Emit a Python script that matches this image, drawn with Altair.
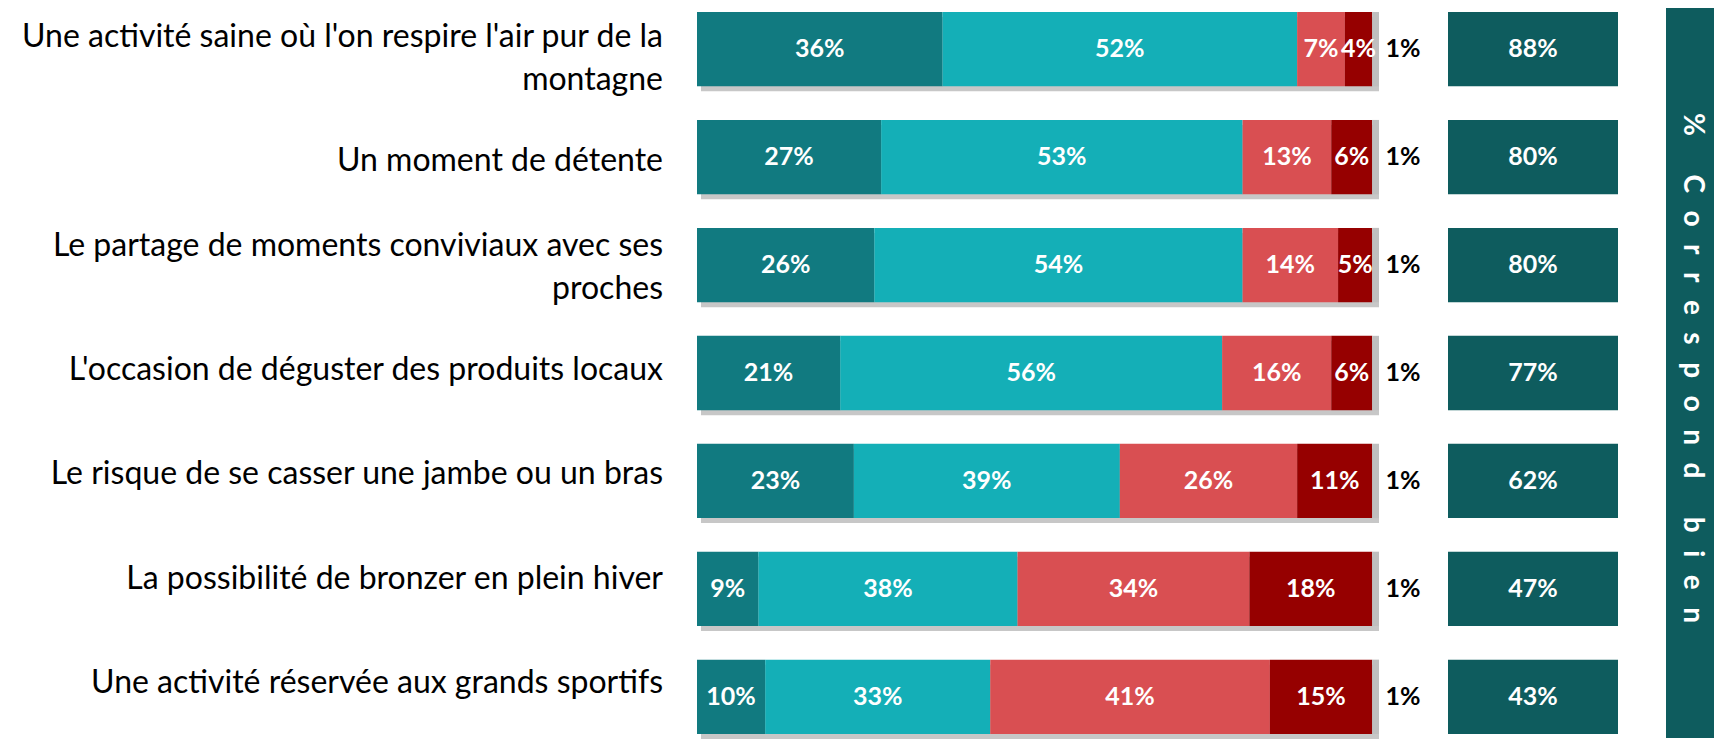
import altair as alt
import pandas as pd

# ---------------- data ----------------
categories = [
    "Une activité saine où l'on respire l'air pur de la|montagne",
    "Un moment de détente",
    "Le partage de moments conviviaux avec ses|proches",
    "L'occasion de déguster des produits locaux",
    "Le risque de se casser une jambe ou un bras",
    "La possibilité de bronzer en plein hiver",
    "Une activité réservée aux grands sportifs",
]
tout_a_fait = [36, 27, 26, 21, 23, 9, 10]
plutot = [52, 53, 54, 56, 39, 38, 33]
plutot_pas = [7, 13, 14, 16, 26, 34, 41]
pas_du_tout = [4, 6, 5, 6, 11, 18, 15]
nsp = [1, 1, 1, 1, 1, 1, 1]
correspond_bien = [88, 80, 80, 77, 62, 47, 43]

series_names = ["Tout à fait", "Plutôt", "Plutôt pas", "Pas du tout", "NSP"]
series_colors = ["#117A80", "#14AFB7", "#D94F52", "#960000", "#BFBFBF"]
panel_title = "% Correspond bien"

# ---------------- long tables ----------------
series_values = [tout_a_fait, plutot, plutot_pas, pas_du_tout, nsp]
rows = []
for i, cat in enumerate(categories):
    start = 0
    for k, name in enumerate(series_names):
        v = series_values[k][i]
        rows.append({
            "cat": cat, "serie": name, "k": k, "value": v,
            "start": start, "end": start + v, "mid": start + v / 2,
            "label": f"{v}%",
        })
        start += v
seg = pd.DataFrame(rows)
totals = seg.groupby("cat", sort=False)["end"].max().reset_index()
totals["zero"] = 0
nsp_df = seg[seg["serie"] == "NSP"]

lab_df = pd.DataFrame({
    "cat": categories,
    "line1": [c.split("|")[0] for c in categories],
    "line2": [c.split("|")[1] if "|" in c else "" for c in categories],
    "nlines": [len(c.split("|")) for c in categories],
})

box_df = pd.DataFrame({
    "cat": categories,
    "grp": ["Correspond bien"] * len(categories),
    "val": correspond_bien,
    "label": [f"{v}%" for v in correspond_bien],
})

FONT = "Lato"
H = 730
yscale = alt.Scale(domain=categories, paddingInner=0.311, paddingOuter=0.0371)
Y = alt.Y("cat:N", scale=yscale, axis=None, sort=categories)

# ---------------- left labels ----------------
def lab_mark(dy):
    return dict(align="right", baseline="middle", font=FONT, fontSize=32,
                color="#000000", dy=dy)

lab_base = alt.Chart(lab_df).encode(x=alt.value(655), y=Y)
lab_single = lab_base.transform_filter("datum.nlines == 1").mark_text(**lab_mark(-3)).encode(text="line1:N")
lab_top = lab_base.transform_filter("datum.nlines == 2").mark_text(**lab_mark(-23)).encode(text="line1:N")
lab_bot = lab_base.transform_filter("datum.nlines == 2").mark_text(**lab_mark(20)).encode(text="line2:N")
labels = alt.layer(lab_single, lab_top, lab_bot).properties(width=641, height=H)

# ---------------- stacked bars ----------------
xscale = alt.Scale(domain=[0, 100], range=[0, 682], nice=False, zero=True)

shadow = alt.Chart(totals).mark_bar(
    color="#000000", opacity=0.22, xOffset=4, yOffset=5,
).encode(
    x=alt.X("zero:Q", scale=xscale, axis=None), x2="end:Q", y=Y,
)
bars = alt.Chart(seg).mark_bar().encode(
    x=alt.X("start:Q", scale=xscale, axis=None), x2="end:Q", y=Y,
    color=alt.Color("serie:N", scale=alt.Scale(domain=series_names, range=series_colors), legend=None),
)
seg_text = alt.Chart(seg).transform_filter("datum.k < 4").mark_text(
    font=FONT, fontSize=25, fontWeight="bold", color="white",
    align="center", baseline="middle",
).encode(
    x=alt.X("mid:Q", scale=xscale, axis=None), y=Y, text="label:N",
)
nsp_text = alt.Chart(nsp_df).mark_text(
    font=FONT, fontSize=25, fontWeight="bold", color="#000000",
    align="center", baseline="middle", dx=24,
).encode(
    x=alt.X("end:Q", scale=xscale, axis=None), y=Y, text="label:N",
)
main = alt.layer(shadow, bars, seg_text, nsp_text).properties(width=703, height=H)

# ---------------- right boxes ----------------
xb = alt.X("grp:N", axis=None, scale=alt.Scale(paddingInner=0, paddingOuter=0))
boxes = alt.Chart(box_df).mark_rect(color="#0E5C5E").encode(x=xb, y=Y)
box_text = alt.Chart(box_df).mark_text(
    font=FONT, fontSize=25, fontWeight="bold", color="white",
    align="center", baseline="middle",
).encode(x=xb, y=Y, text="label:N")
right = alt.layer(boxes, box_text).properties(width=170, height=H)

# ---------------- vertical panel ----------------
def spaced(t):
    words = t.split(" ")
    return "\u2003\u2002\u2009".join("\u2002\u2009".join(list(w)) for w in words)

PW = 48
panel_df = pd.DataFrame({"t": [spaced(panel_title)]})
panel_bg = alt.Chart(panel_df).mark_rect(color="#0E5C5E").encode(
    x=alt.value(0), x2=alt.value(PW), y=alt.value(0), y2=alt.value(H),
)
panel_text = alt.Chart(panel_df).mark_text(
    font=FONT, fontSize=28, fontWeight="bold", color="white",
    angle=90, align="center", baseline="middle",
).encode(x=alt.value(PW / 2 + 2), y=alt.value(360), text="t:N")
panel = alt.layer(panel_bg, panel_text).properties(width=PW, height=H)

chart = alt.hconcat(labels, main, right, panel, spacing=48, bounds="flush").properties(
    padding=0, background="white",
).configure_view(stroke=None)

chart.save("out.html", embed_options={"renderer": "svg", "actions": False})
